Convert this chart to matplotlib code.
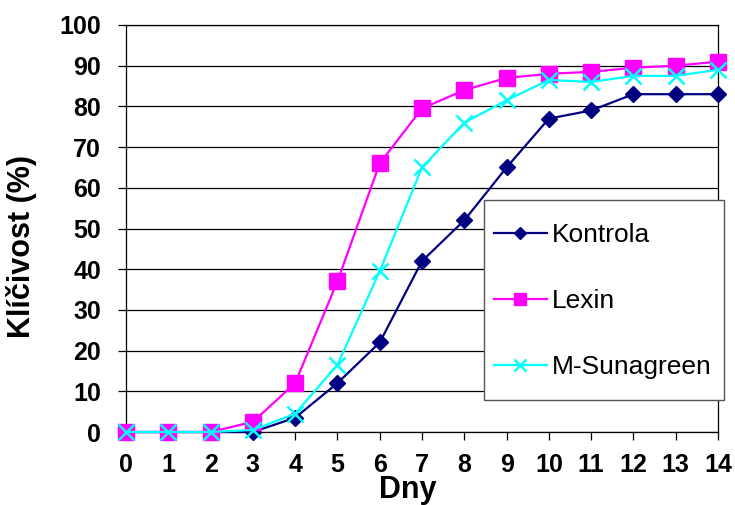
import matplotlib
matplotlib.use('Agg')
import matplotlib.pyplot as plt
from matplotlib.patches import Rectangle

plt.rcParams['font.family'] = ['Liberation Sans', 'DejaVu Sans']

# germination (%) by day
dny = list(range(15))
kontrola = [0, 0, 0, 0, 3.5, 12, 22, 42, 52, 65, 77, 79, 83, 83, 83]
lexin = [0, 0, 0, 2.5, 12, 37, 66, 79.5, 84, 87, 88, 88.5, 89.5, 90, 91]
sunagreen = [0, 0, 0, 0.5, 4.5, 16.5, 39.5, 65, 76, 81.5, 86.5, 86, 87.5, 87.5, 89]

W, H = 735, 505
fig = plt.figure(figsize=(W / 100, H / 100), dpi=100)
ax = fig.add_axes([126 / W, 1 - 432 / H, (718 - 126) / W, (432 - 25) / H])

ax.plot(dny, kontrola, color='#000080', lw=1.6, marker='D', ms=8,
        label='Kontrola', clip_on=False, zorder=3)
ax.plot(dny, lexin, color='#FF00FF', lw=1.6, marker='s', ms=11,
        label='Lexin', clip_on=False, zorder=3)
ax.plot(dny, sunagreen, color='#00FFFF', lw=1.6, marker='x', ms=11, mew=1.8,
        label='M-Sunagreen', clip_on=False, zorder=4)

ax.set_xlim(0, 14)
ax.set_ylim(0, 100)
ax.set_xticks(dny)
ax.set_yticks(range(0, 101, 10))
ax.yaxis.grid(True, color='black', lw=0.9)
ax.set_axisbelow(True)
for s in ax.spines.values():
    s.set_linewidth(0.9)
ax.tick_params(direction='out', length=6, width=0.9, labelsize=18)
ax.tick_params(axis='y', pad=12)
ax.tick_params(axis='x', pad=9)
for lab in ax.get_xticklabels() + ax.get_yticklabels():
    lab.set_fontweight('bold')

# axis titles
fig.text(408 / W, 7 / H, 'Dny', fontsize=22, fontweight='bold',
         ha='center', va='baseline')
fig.text(22 / W, 1 - 246 / H, 'Klíčivost (%)', fontsize=22, fontweight='bold',
         rotation=90, ha='center', va='center')

# legend box
fig.patches.append(Rectangle((484 / W, 1 - 400 / H), 240 / W, 200 / H,
                             transform=fig.transFigure, facecolor='white',
                             edgecolor='#555555', lw=1.0, zorder=4))
fig.legend(loc='center left', bbox_to_anchor=(494 / W, 1 - 301 / H), fontsize=19,
           frameon=False, labelspacing=1.6, borderpad=0, handlelength=2.0,
           handletextpad=0.2, borderaxespad=0, markerscale=0.8)

fig.savefig('out.png', dpi=100)
